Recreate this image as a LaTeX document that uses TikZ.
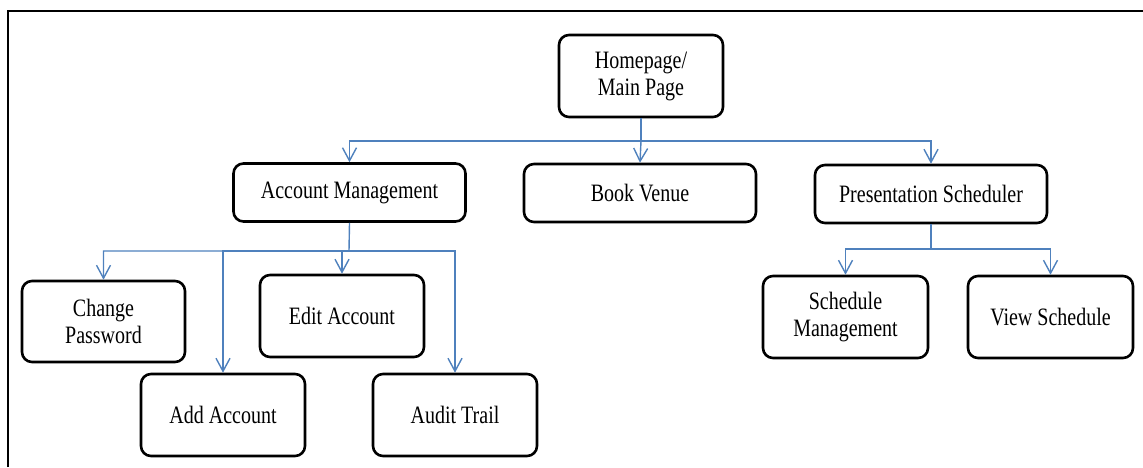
\documentclass[tikz,border=0pt]{standalone}
\usepackage{fontspec}
\setmainfont{Liberation Serif}[FakeStretch=0.8]
\usetikzlibrary{arrows.meta}
\definecolor{linkblue}{HTML}{4F81BD}
\tikzset{
  pagebox/.style={draw=black, line width=2.6pt, rounded corners=10pt, fill=white,
    align=center, inner sep=0pt, font=\fontsize{25}{27}\selectfont},
  wide/.style={pagebox, minimum width=232pt, minimum height=58pt},
  tall/.style={pagebox, minimum width=164pt, minimum height=82pt},
  link/.style={draw=linkblue, line width=1.4pt,
    -{Straight Barb[length=13pt,width=14pt,line width=1.4pt]}},
  frameline/.style={draw=black, line width=2.2pt}
}
\begin{document}
\begin{tikzpicture}[x=1pt,y=-1pt]
  \useasboundingbox (0,0) rectangle (1143,467);
  % outer frame (top and left edges)
  \draw[frameline] (8,467) -- (8,11) -- (1143,11);

  % top level
  \node[tall] (home) at (641,76) {Homepage/\\Main Page};

  % second level
  \node[wide] (acct) at (349.5,192.5) {Account Management};
  \node[wide] (book) at (640,193) {Book Venue};
  \node[wide] (pres) at (931,194) {Presentation Scheduler};

  % account management pages
  \node[tall, minimum width=163pt, minimum height=81pt] (cp) at (103.5,321.5) {Change\\Password};
  \node[tall] (edit) at (342,316) {Edit Account};
  \node[tall] (add) at (223,415) {Add Account};
  \node[tall] (audit) at (455,415) {Audit Trail};

  % presentation scheduler pages
  \node[tall, minimum width=165pt] (sm) at (845.5,317) {Schedule\\Management};
  \node[tall, minimum width=165pt] (vs) at (1050.5,317) {View Schedule};

  % bus junctions
  \coordinate (hbus) at (641,141);
  \coordinate (abus) at (349,251);
  \coordinate (pbus) at (931,249);

  % homepage links
  \draw[link] (home.south) -- (hbus) -| (acct.north);
  \draw[link] (hbus) -- (book.north);
  \draw[link] (hbus) -| (pres.north);

  % account management links
  \draw[link] (acct.south) -- (abus) -| (cp.north);
  \draw[link] (abus) -| (add.north);
  \draw[link] (abus) -| (edit.north);
  \draw[link] (abus) -| (audit.north);

  % scheduler links
  \draw[link] (pres.south) -- (pbus) -| (sm.north);
  \draw[link] (pbus) -| (vs.north);
\end{tikzpicture}
\end{document}
